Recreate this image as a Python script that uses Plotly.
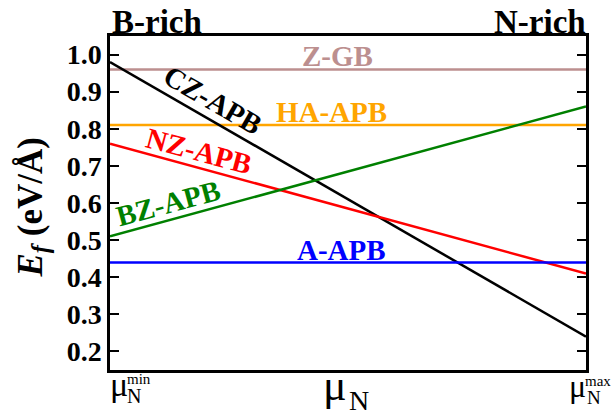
import plotly.graph_objects as go

# ---- data ----
x_mu = [0.0, 1.0]                      # mu_N from min to max (normalised)
names = ["Z-GB", "HA-APB", "CZ-APB", "NZ-APB", "BZ-APB", "A-APB"]
start_vals = [0.96, 0.81, 0.98, 0.76, 0.51, 0.44]
end_vals = [0.96, 0.81, 0.24, 0.41, 0.86, 0.44]
colors = ["#BC8F8F", "#FFA500", "#000000", "#FF0000", "#008000", "#0000FF"]
# label positions (data coords) and angles
label_x = [0.477, 0.466, 0.216, 0.187, 0.122, 0.487]
label_y = [0.995, 0.846, 0.878, 0.740, 0.600, 0.474]
label_angle = [0, 0, 30, 15, -15, 0]
y_ticks = [0.2, 0.3, 0.4, 0.5, 0.6, 0.7, 0.8, 0.9, 1.0]

FONT = "Liberation Serif"
W, H = 612, 413
L, R, T, B = 110, 26, 36, 43
PW, PH = W - L - R, H - T - B


def px(xp):
    return (xp - L) / PW


def py(yp):
    return (H - B - yp) / PH


fig = go.Figure()
for n, s, e, c in zip(names, start_vals, end_vals, colors):
    fig.add_trace(go.Scatter(x=x_mu, y=[s, e], mode="lines", name=n,
                             line=dict(color=c, width=2.5), showlegend=False))

ann = []
for n, xx, yy, a, c in zip(names, label_x, label_y, label_angle, colors):
    ann.append(dict(x=xx, y=yy, xref="x", yref="y", text="<b>%s</b>" % n,
                    showarrow=False, textangle=a, xanchor="center", yanchor="middle",
                    font=dict(family=FONT, size=29, color=c)))

# top labels
ann.append(dict(x=0, y=py(33 - 0.34 * 33), xref="paper", yref="paper", text="<b>B-rich</b>",
                showarrow=False, xanchor="left", yanchor="middle",
                font=dict(family=FONT, size=33, color="black")))
ann.append(dict(x=px(588), y=py(33 - 0.34 * 33), xref="paper", yref="paper", text="<b>N-rich</b>",
                showarrow=False, xanchor="right", yanchor="middle",
                font=dict(family=FONT, size=33, color="black")))

# y title
ann.append(dict(x=px(32), y=py(207.5), xref="paper", yref="paper",
                text="<b><i>E</i><sub><i>f</i></sub> (eV/Å)</b>", textangle=-90,
                showarrow=False, xanchor="center", yanchor="middle",
                font=dict(family=FONT, size=35, color="black")))


def txt(t, cx, base, fs):
    ann.append(dict(x=px(cx), y=py(base - 0.34 * fs), xref="paper", yref="paper", text=t,
                    showarrow=False, xanchor="center", yanchor="middle",
                    font=dict(family=FONT, size=fs, color="black")))


# x-axis labels: mu_N^min, mu_N, mu_N^max
txt("μ", 119, 396, 34)
txt("N", 134, 403, 20)
txt("min", 139, 384, 15)
txt("μ", 335, 400, 44)
txt("N", 359, 410, 28)
txt("μ", 577, 397, 32)
txt("N", 594, 404, 19)
txt("max", 598, 386, 15)

fig.update_layout(
    width=W, height=H, margin=dict(l=L, r=R, t=T, b=B),
    plot_bgcolor="white", paper_bgcolor="white",
    annotations=ann,
    xaxis=dict(range=[0, 1], showgrid=False, zeroline=False, showticklabels=False,
               ticks="", showline=True, mirror=True, linecolor="black", linewidth=2.5),
    yaxis=dict(range=[0.15, 1.05], showgrid=False, zeroline=False,
               tickvals=y_ticks, ticktext=["%.1f" % v for v in y_ticks],
               ticks="inside", ticklen=9, tickwidth=2, tickcolor="black",
               showline=True, mirror="ticks", linecolor="black", linewidth=2.5,
               tickfont=dict(family=FONT, size=28, color="black", weight="bold")),
)

fig.write_html("out.html", config={"displayModeBar": False},
               post_script="document.body.style.margin='0';")
